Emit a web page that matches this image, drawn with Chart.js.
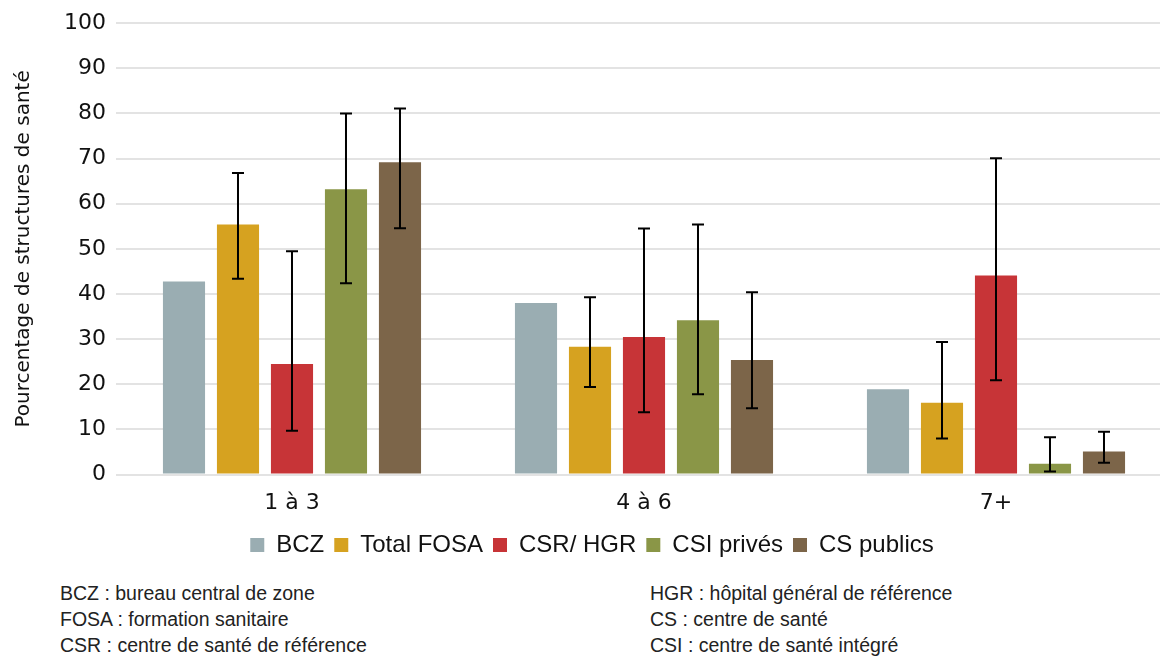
<!DOCTYPE html>
<html>
<head>
<meta charset="utf-8">
<script src="https://cdn.jsdelivr.net/npm/chart.js@4.4.0/dist/chart.umd.min.js"></script>
<style>
  body { margin: 0; background: #fff; width: 1160px; height: 656px; overflow: hidden; position: relative; }
  #wrap { position: absolute; left: 0; top: 0; width: 1172px; height: 567px; }
  .note { position: absolute; font-family: "Liberation Sans", Arial, sans-serif; font-size: 19.5px; color: #222; line-height: 26px; }
</style>
</head>
<body>
<div id="wrap"><canvas id="chart"></canvas></div>
<div class="note" style="left:60px; top:580px;">BCZ : bureau central de zone<br>FOSA : formation sanitaire<br>CSR : centre de santé de référence</div>
<div class="note" style="left:650px; top:580px;">HGR : hôpital général de référence<br>CS : centre de santé<br>CSI : centre de santé intégré</div>
<script>
// Catégories et séries
const categories = ['1 à 3', '4 à 6', '7+'];
const seriesNames = ['BCZ', 'Total FOSA', 'CSR/ HGR', 'CSI privés', 'CS publics'];
const seriesColors = ['#9aadb2', '#d6a220', '#c73437', '#8a9647', '#7c6549'];

const bcz = [42.8, 38.0, 18.9];
const totalFosa = [55.4, 28.3, 15.9];
const csrHgr = [24.5, 30.5, 44.1];
const csiPrives = [63.2, 34.2, 2.4];
const csPublics = [69.2, 25.4, 5.1];

// Intervalles de confiance (null = pas de barre d'erreur)
const bczLow = [null, null, null];
const bczHigh = [null, null, null];
const fosaLow = [43.4, 19.4, 8.0];
const fosaHigh = [66.8, 39.3, 29.4];
const csrLow = [9.7, 13.8, 20.9];
const csrHigh = [49.5, 54.5, 70.1];
const csiLow = [42.4, 17.8, 0.7];
const csiHigh = [80.0, 55.4, 8.3];
const csLow = [54.6, 14.7, 2.6];
const csHigh = [81.1, 40.4, 9.5];

const yTicks = [0, 10, 20, 30, 40, 50, 60, 70, 80, 90, 100];

const values = [bcz, totalFosa, csrHgr, csiPrives, csPublics];
const lows = [bczLow, fosaLow, csrLow, csiLow, csLow];
const highs = [bczHigh, fosaHigh, csrHigh, csiHigh, csHigh];

const datasets = seriesNames.map((name, i) => ({
    label: name,
    data: values[i],
    errLow: lows[i],
    errHigh: highs[i],
    backgroundColor: seriesColors[i],
    borderWidth: 0,
    categoryPercentage: 0.767,
    barPercentage: 0.78
}));

// Barres d'erreur dessinées avec les échelles du graphique
const errorBars = {
    id: 'errorBars',
    afterDatasetsDraw(chart) {
        const ctx = chart.ctx;
        const y = chart.scales.y;
        ctx.save();
        ctx.strokeStyle = '#000';
        ctx.lineWidth = 2;
        chart.data.datasets.forEach((ds, di) => {
            const meta = chart.getDatasetMeta(di);
            meta.data.forEach((bar, j) => {
                const lo = ds.errLow[j], hi = ds.errHigh[j];
                if (lo == null || hi == null) return;
                const yl = y.getPixelForValue(lo);
                const yh = y.getPixelForValue(hi);
                const x = bar.x;
                ctx.beginPath();
                ctx.moveTo(x, yl); ctx.lineTo(x, yh);
                ctx.moveTo(x - 6, yl); ctx.lineTo(x + 6, yl);
                ctx.moveTo(x - 6, yh); ctx.lineTo(x + 6, yh);
                ctx.stroke();
            });
        });
        ctx.restore();
    }
};

new Chart(document.getElementById('chart'), {
    type: 'bar',
    data: { labels: categories, datasets: datasets },
    options: {
        responsive: true,
        maintainAspectRatio: false,
        animation: false,
        layout: { padding: { top: 8, right: 0, left: 12, bottom: 0 } },
        plugins: {
            legend: {
                position: 'bottom',
                labels: {
                    boxWidth: 14,
                    boxHeight: 14,
                    padding: 10,
                    color: '#111',
                    font: { family: '"Liberation Sans Narrow", "Liberation Sans", sans-serif', size: 24 }
                }
            },
            tooltip: { enabled: false }
        },
        scales: {
            x: {
                grid: { display: false },
                border: { display: false },
                ticks: { color: '#111', padding: 7, font: { family: '"DejaVu Sans", sans-serif', size: 22 } }
            },
            y: {
                min: 0,
                max: 100,
                afterBuildTicks: axis => { axis.ticks = yTicks.map(v => ({ value: v })); },
                grid: { color: '#e3e3e3', lineWidth: 2, drawTicks: false },
                border: { display: false },
                ticks: { color: '#111', padding: 10, font: { family: '"DejaVu Sans", sans-serif', size: 22 } },
                title: {
                    display: true,
                    text: 'Pourcentage de structures de santé',
                    color: '#111',
                    padding: { top: 0, bottom: 18 },
                    font: { family: '"DejaVu Sans", sans-serif', size: 20 }
                }
            }
        }
    },
    plugins: [errorBars]
});
</script>
</body>
</html>
